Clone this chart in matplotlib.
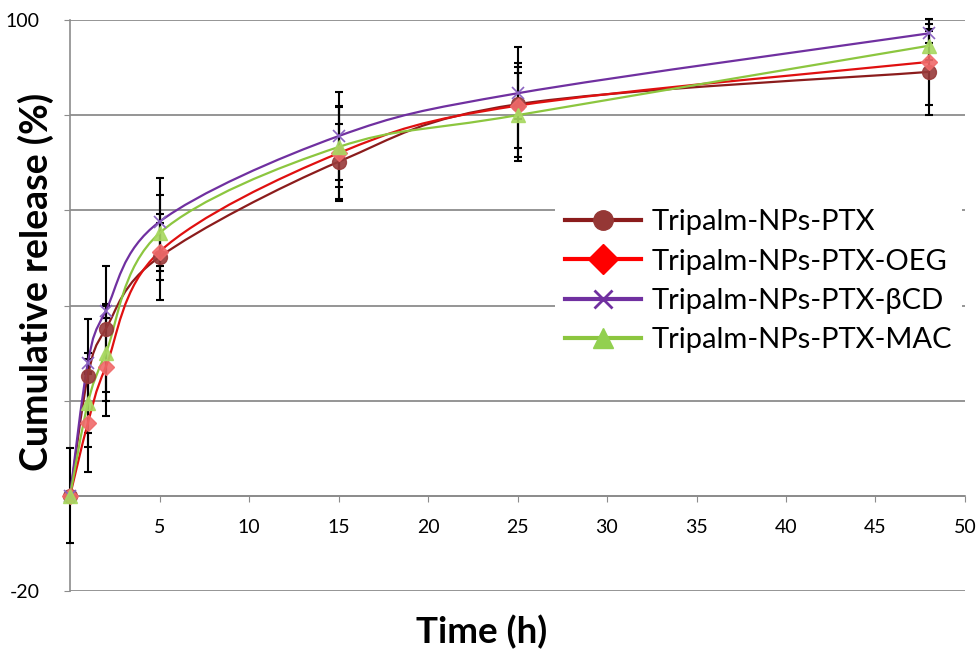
import matplotlib.pyplot as plt
import numpy as np
from matplotlib.path import Path
from matplotlib.patches import PathPatch
from matplotlib.lines import Line2D

plt.rcParams['font.family'] = ['Lato', 'DejaVu Sans']

# data
time_h = [0, 1, 2, 5, 15, 25, 48]
names = ['Tripalm-NPs-PTX', 'Tripalm-NPs-PTX-OEG', 'Tripalm-NPs-PTX-βCD', 'Tripalm-NPs-PTX-MAC']
ptx = [0, 25.2, 35.1, 50.2, 70.2, 82.3, 89.1]
ptx_err = [0, 12, 13.2, 9, 7.9, 12, 9]
oeg = [0, 15.3, 27.1, 51.3, 72.0, 82.0, 91.2]
oeg_err = [0, 10.3, 10.3, 6, 10, 9, 9]
bcd = [0, 28.0, 38.9, 57.6, 75.6, 84.6, 97.2]
bcd_err = [0, 2, 1.5, 9.2, 9.3, 5.5, 2]
mac = [0, 19.5, 30.0, 55.2, 73.3, 80.0, 94.6]
mac_err = [10, 9.2, 10, 8, 8.4, 8.8, 3]

line_colors = ['#8b1c1c', '#e01010', '#7030a0', '#8cc63f']
marker_colors = ['#983a3a', '#f06a6a', '#8a63c0', '#a8d860']
legend_marker_colors = ['#953735', '#ff0000', '#7030a0', '#92d050']
markers = ['o', 'D', 'x', '^']
msizes = [10, 8, 9, 10]
legend_msizes = [14, 15, 13, 14]


def smooth_path(x, y):
    # excel style smoothed line: catmull-rom as cubic bezier
    pts = np.column_stack([x, y]).astype(float)
    n = len(pts)
    verts = [pts[0]]
    codes = [Path.MOVETO]
    for i in range(n - 1):
        p0 = pts[max(i - 1, 0)]
        p1 = pts[i]
        p2 = pts[i + 1]
        p3 = pts[min(i + 2, n - 1)]
        verts += [p1 + (p2 - p0) / 6, p2 - (p3 - p1) / 6, p2]
        codes += [Path.CURVE4] * 3
    return Path(verts, codes)


fig = plt.figure(figsize=(9.79, 6.51), dpi=100)
ax = fig.add_axes([70 / 979, 1 - 591 / 651, 895 / 979, 571 / 651])
ax.set_xlim(0, 50)
ax.set_ylim(-20, 100)

grey = '#8c8c8c'
ax.set_axisbelow(True)
ax.yaxis.grid(True, color=grey, lw=1.3)
for s in ['top', 'right']:
    ax.spines[s].set_visible(False)
ax.spines['left'].set_color(grey)
ax.spines['left'].set_linewidth(1.2)
ax.spines['bottom'].set_position(('data', 0))
ax.spines['bottom'].set_color(grey)
ax.spines['bottom'].set_linewidth(1.2)

yt = list(range(-20, 101, 20))
ax.set_yticks(yt)
ax.set_yticklabels(['-20', '', '', '', '', '', '100'])
ax.set_xticks(range(5, 51, 5))
ax.tick_params(axis='y', length=4, color=grey, labelsize=14, pad=18)
ax.tick_params(axis='x', length=4, color=grey, labelsize=14, pad=13)

all_vals = [ptx, oeg, bcd, mac]
all_errs = [ptx_err, oeg_err, bcd_err, mac_err]

for vals, errs in zip(all_vals, all_errs):
    eb = ax.errorbar(time_h, vals, yerr=errs, fmt='none', ecolor='black',
                     elinewidth=1.5, capsize=3, capthick=1.5, zorder=2.7)
    for art in eb.lines[1] + eb.lines[2]:
        art.set_clip_on(False)

for i, (vals, errs) in enumerate(zip(all_vals, all_errs)):
    ax.add_patch(PathPatch(smooth_path(time_h, vals), fill=False,
                           edgecolor=line_colors[i], lw=1.6, zorder=3))
    if markers[i] == 'x':
        ax.plot(time_h, vals, ls='none', marker='x', ms=msizes[i],
                mew=1.2, color=marker_colors[i], zorder=4, clip_on=False)
    else:
        ax.plot(time_h, vals, ls='none', marker=markers[i], ms=msizes[i],
                mfc=marker_colors[i], mec=marker_colors[i], alpha=0.9,
                zorder=4, clip_on=False)

handles = []
for i in range(4):
    handles.append(Line2D([], [], color=line_colors[i] if i != 1 else '#ff0000',
                          lw=3, marker=markers[i], ms=legend_msizes[i],
                          mfc=legend_marker_colors[i], mec=legend_marker_colors[i],
                          mew=2 if markers[i] == 'x' else 1))
leg = ax.legend(handles, names, loc='upper left',
                bbox_to_anchor=(555 / 979, 1 - 199 / 651),
                bbox_transform=fig.transFigure, fontsize=21,
                frameon=True, facecolor='white', edgecolor='none', framealpha=1,
                fancybox=False, borderpad=0.35, borderaxespad=0,
                handlelength=2.6, handletextpad=0.35, labelspacing=0.46)
leg.set_zorder(5)

fig.text(36 / 979, 1 - 282 / 651, 'Cumulative release (%)', rotation=90,
         fontsize=27, fontweight='bold', ha='center', va='center')
fig.text(482 / 979, 1 - 632 / 651, 'Time (h)', fontsize=26.5,
         fontweight='bold', ha='center', va='center')

plt.savefig('out.png', dpi=100)
